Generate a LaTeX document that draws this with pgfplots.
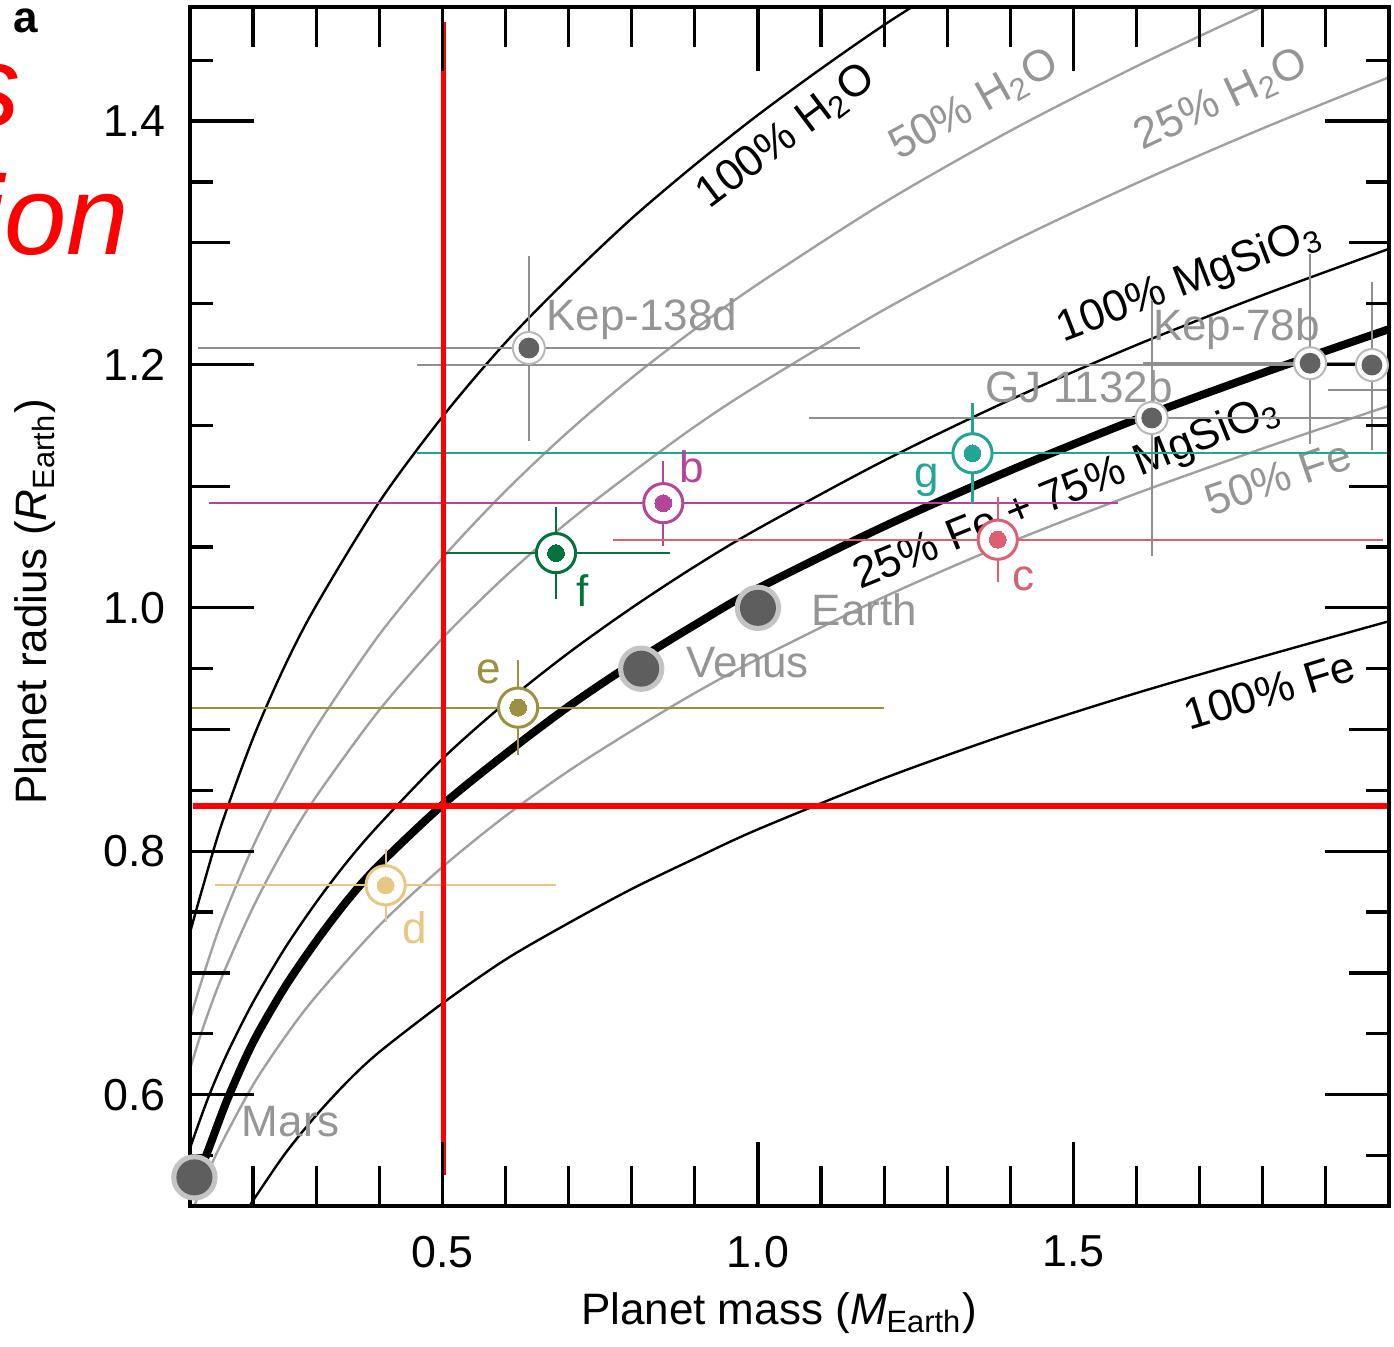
\documentclass[border=0pt]{standalone}
\usepackage{pgfplots}
\pgfplotsset{compat=1.18}
\usepackage{fontspec}
\setmainfont{Liberation Sans}
\definecolor{cb}{HTML}{B4469A}
\definecolor{cc}{HTML}{DA6072}
\definecolor{cd}{HTML}{E6C882}
\definecolor{ce}{HTML}{9B9141}
\definecolor{cf}{HTML}{00733C}
\definecolor{cg}{HTML}{23A596}
\definecolor{kgray}{HTML}{8F8F8F}
\definecolor{kring}{HTML}{B8B8B8}
\definecolor{kdot}{HTML}{626262}
\definecolor{cgray}{HTML}{A0A0A0}
\definecolor{lgray}{HTML}{959595}
\definecolor{sshalo}{HTML}{C4C4C4}
\definecolor{ssdot}{HTML}{5E5E5E}
\newcommand\lf{\fontsize{11}{13}\selectfont}
\pgfplotsset{
  trap/.style={color=#1, only marks, mark=*, mark size=4.9pt,
    mark options={fill=white, draw=#1, line width=0.75pt},
    error bars/.cd, x dir=both, x explicit, y dir=both, y explicit, error mark=none,
    error bar style={line width=0.55pt, color=#1}},
  dot/.style={only marks, mark=*, mark size=2.1pt, mark options={fill=#1, draw=#1, line width=0pt}},
  kep/.style={color=kgray, only marks, mark=*, mark size=4pt,
    mark options={fill=white, draw=kring, line width=0.5pt},
    error bars/.cd, x dir=both, x explicit, y dir=both, y explicit, error mark=none,
    error bar style={line width=0.55pt, color=kgray}},
}
\begin{document}
\begin{tikzpicture}
\begin{axis}[
  at={(0,0)}, anchor=south west,
  scale only axis, width=299.75pt, height=299.75pt,
  xmin=0.1, xmax=2.0, ymin=0.5085, ymax=1.4937,
  axis on top,
  axis line style={line width=0.9pt},
  every tick/.style={black, line width=0.8pt},
  tick align=inside,
  xtick={0.5,1.0,1.5}, ytick={0.6,0.8,1.0,1.2,1.4},
  minor ytick={0.55,0.65,0.75,0.85,0.95,1.05,1.15,1.25,1.35,1.45},
  major tick length=16pt, minor tick length=5.75pt,
  extra x ticks={0.2,0.3,0.4,0.6,0.7,0.8,0.9,1.1,1.2,1.3,1.4,1.6,1.7,1.8,1.9},
  extra x tick labels={},
  extra x tick style={major tick length=10pt},
  extra y ticks={0.7,0.9,1.1,1.3},
  extra y tick labels={},
  extra y tick style={major tick length=10pt},
  tick label style={font=\fontsize{11.2}{13}\selectfont},
  xticklabel style={yshift=-4pt},
  yticklabel style={xshift=-2.5pt},
  /pgf/number format/.cd, fixed, fixed zerofill, precision=1, assume math mode=true
]
% composition curves
\addplot[black, line width=0.6pt, smooth] coordinates {(0.09,0.712) (0.1,0.733) (0.12,0.770) (0.15,0.822) (0.2,0.893) (0.25,0.952) (0.3,1.002) (0.4,1.087) (0.5,1.157) (0.6,1.218) (0.7,1.271) (0.8,1.320) (0.9,1.364) (1.0,1.405) (1.1,1.443) (1.2,1.479) (1.3,1.512)};
\addplot[cgray, line width=0.6pt, smooth] coordinates {(0.09,0.642) (0.1,0.662) (0.12,0.696) (0.15,0.742) (0.2,0.804) (0.25,0.856) (0.3,0.902) (0.4,0.978) (0.5,1.041) (0.6,1.096) (0.7,1.145) (0.8,1.189) (0.9,1.229) (1.0,1.266) (1.2,1.333) (1.4,1.392) (1.6,1.445) (1.8,1.494) (1.9,1.517)};
\addplot[cgray, line width=0.6pt, smooth] coordinates {(0.09,0.605) (0.1,0.621) (0.12,0.654) (0.15,0.696) (0.2,0.754) (0.25,0.803) (0.3,0.845) (0.4,0.916) (0.5,0.975) (0.6,1.026) (0.7,1.071) (0.8,1.111) (0.9,1.149) (1.0,1.183) (1.2,1.245) (1.4,1.300) (1.6,1.349) (1.8,1.394) (2.0,1.436)};
\addplot[black, line width=0.6pt, smooth] coordinates {(0.09,0.539) (0.1,0.556) (0.13,0.599) (0.16,0.635) (0.2,0.676) (0.25,0.720) (0.3,0.758) (0.35,0.792) (0.4,0.822) (0.5,0.876) (0.6,0.922) (0.7,0.963) (0.8,1.000) (0.9,1.034) (1.0,1.065) (1.2,1.121) (1.4,1.171) (1.6,1.216) (1.8,1.257) (2.0,1.295)};
\addplot[cgray, line width=0.6pt, smooth] coordinates {(0.1,0.499) (0.12,0.526) (0.15,0.560) (0.2,0.608) (0.25,0.647) (0.3,0.681) (0.4,0.739) (0.5,0.787) (0.6,0.829) (0.7,0.866) (0.8,0.899) (0.9,0.930) (1.0,0.958) (1.2,1.009) (1.4,1.054) (1.6,1.094) (1.8,1.131) (2.0,1.166)};
\addplot[black, line width=0.6pt, smooth] coordinates {(0.18,0.497) (0.2,0.513) (0.25,0.551) (0.3,0.583) (0.35,0.611) (0.4,0.635) (0.5,0.675) (0.6,0.711) (0.7,0.741) (0.8,0.769) (0.9,0.794) (1.0,0.818) (1.2,0.860) (1.4,0.897) (1.6,0.930) (1.8,0.960) (2.0,0.989)};
\addplot[black, line width=2pt, smooth] coordinates {(0.107,0.525) (0.13,0.556) (0.16,0.597) (0.2,0.643) (0.25,0.688) (0.3,0.726) (0.35,0.760) (0.4,0.789) (0.5,0.838) (0.6,0.880) (0.7,0.919) (0.8,0.954) (0.9,0.986) (1.0,1.016) (1.2,1.067) (1.4,1.113) (1.6,1.155) (1.8,1.193) (2.0,1.229)};
% curve labels
\node[rotate=37, font=\lf] at (axis cs:1.045,1.387) {100\% H\textsubscript{2}O};
\node[rotate=29, font=\lf, text=lgray] at (axis cs:1.343,1.413) {50\% H\textsubscript{2}O};
\node[rotate=25, font=\lf, text=lgray] at (axis cs:1.735,1.417) {25\% H\textsubscript{2}O};
\node[rotate=21, font=\lf] at (axis cs:1.684,1.268) {100\% MgSiO\textsubscript{3}};
\node[rotate=22, font=\lf] at (axis cs:1.490,1.094) {25\% Fe + 75\% MgSiO\textsubscript{3}};
\node[rotate=19, font=\lf, text=lgray] at (axis cs:1.824,1.107) {50\% Fe};
\node[rotate=17, font=\lf] at (axis cs:1.811,0.932) {100\% Fe};
% Kepler / GJ planets
\addplot[kep] coordinates {(2.5,1.179) -= (0.597,0) += (0,0)};
\addplot[kep] coordinates {(1.973,1.1995) -= (1.514,0.070) += (1.514,0.068)};
\addplot[kep] coordinates {(0.637,1.2135) +- (0.525,0.076)};
\addplot[kep] coordinates {(1.875,1.201) -= (0.265,0.066) += (0.265,0.090)};
\addplot[kep] coordinates {(1.624,1.156) -= (0.543,0.113) += (0.545,0.097)};
\addplot[only marks, mark=*, mark size=2.4pt, mark options={fill=kdot, draw=kdot}] coordinates {(0.637,1.2135) (1.875,1.201) (1.624,1.156) (1.973,1.1995)};
% TRAPPIST-1 planets
\addplot[trap=cb] coordinates {(0.85,1.086) +- (0.72,0.035)};
\addplot[trap=cc] coordinates {(1.38,1.056) +- (0.61,0.035)};
\addplot[trap=cd] coordinates {(0.41,0.772) +- (0.27,0.030)};
\addplot[trap=ce] coordinates {(0.62,0.918) +- (0.58,0.039)};
\addplot[trap=cf] coordinates {(0.68,1.045) +- (0.18,0.038)};
\addplot[trap=cg] coordinates {(1.34,1.127) +- (0.88,0.041)};
\addplot[dot=cb] coordinates {(0.85,1.086)};
\addplot[dot=cc] coordinates {(1.38,1.056)};
\addplot[dot=cd] coordinates {(0.41,0.772)};
\addplot[dot=ce] coordinates {(0.62,0.918)};
\addplot[dot=cf] coordinates {(0.68,1.045)};
\addplot[dot=cg] coordinates {(1.34,1.127)};
% Solar system
\addplot[only marks, mark=*, mark size=5.6pt, mark options={fill=sshalo, draw=sshalo}] coordinates {(1.0,1.0) (0.815,0.950) (0.107,0.532)};
\addplot[only marks, mark=*, mark size=4.3pt, mark options={fill=ssdot, draw=ssdot}] coordinates {(1.0,1.0) (0.815,0.950) (0.107,0.532)};
% point labels
\node[anchor=base west, inner sep=0pt, font=\lf, text=lgray] at (axis cs:0.6635,1.2283) {Kep-138d};
\node[anchor=base west, inner sep=0pt, font=\lf, text=lgray] at (axis cs:1.625,1.220) {Kep-78b};
\node[anchor=base west, inner sep=0pt, font=\lf, text=lgray] at (axis cs:1.3587,1.169) {GJ 1132b};
\node[anchor=base west, inner sep=0pt, font=\lf, text=cb] at (axis cs:0.8746,1.1034) {b};
\node[anchor=base west, inner sep=0pt, font=\lf, text=cc] at (axis cs:1.4016,1.0146) {c};
\node[anchor=base west, inner sep=0pt, font=\lf, text=cd] at (axis cs:0.435,0.7246) {d};
\node[anchor=base west, inner sep=0pt, font=\lf, text=ce] at (axis cs:0.5524,0.938) {e};
\node[anchor=base west, inner sep=0pt, font=\lf, text=cf] at (axis cs:0.711,1.0007) {f};
\node[anchor=base west, inner sep=0pt, font=\lf, text=cg] at (axis cs:1.2476,1.0993) {g};
\node[anchor=base west, inner sep=0pt, font=\lf, text=lgray] at (axis cs:1.084,0.9859) {Earth};
\node[anchor=base west, inner sep=0pt, font=\lf, text=lgray] at (axis cs:0.8857,0.9431) {Venus};
\node[anchor=base west, inner sep=0pt, font=\lf, text=lgray] at (axis cs:0.181,0.5652) {Mars};
% red guide lines
\addplot[red, line width=1.3pt] coordinates {(0.5016,0.534) (0.5016,1.481)};
\addplot[red, line width=1.3pt] coordinates {(0.104,0.8371) (2.0,0.8371)};
\end{axis}
% axis labels and annotations
\node[anchor=base, font=\lf] at (147.25pt,-29.75pt) {Planet mass (\textit{M}\textsubscript{Earth})};
\node[anchor=base, rotate=90, font=\lf] at (-35.75pt,151pt) {Planet radius (\textit{R}\textsubscript{Earth})};
\node[anchor=base west, inner sep=0pt, font=\fontsize{11}{13}\selectfont\bfseries] at (-44.25pt,293.25pt) {a};
\node[anchor=base east, inner sep=0pt, text=red, font=\fontsize{29}{33}\selectfont\itshape] at (-42.25pt,269.75pt) {s};
\node[anchor=base east, inner sep=0pt, text=red, font=\fontsize{28}{32}\selectfont\itshape] at (-15pt,237.75pt) {ion};
\pgfresetboundingbox
\useasboundingbox (-47.5pt,-35.25pt) rectangle (301pt,301.5pt);
\end{tikzpicture}
\end{document}
